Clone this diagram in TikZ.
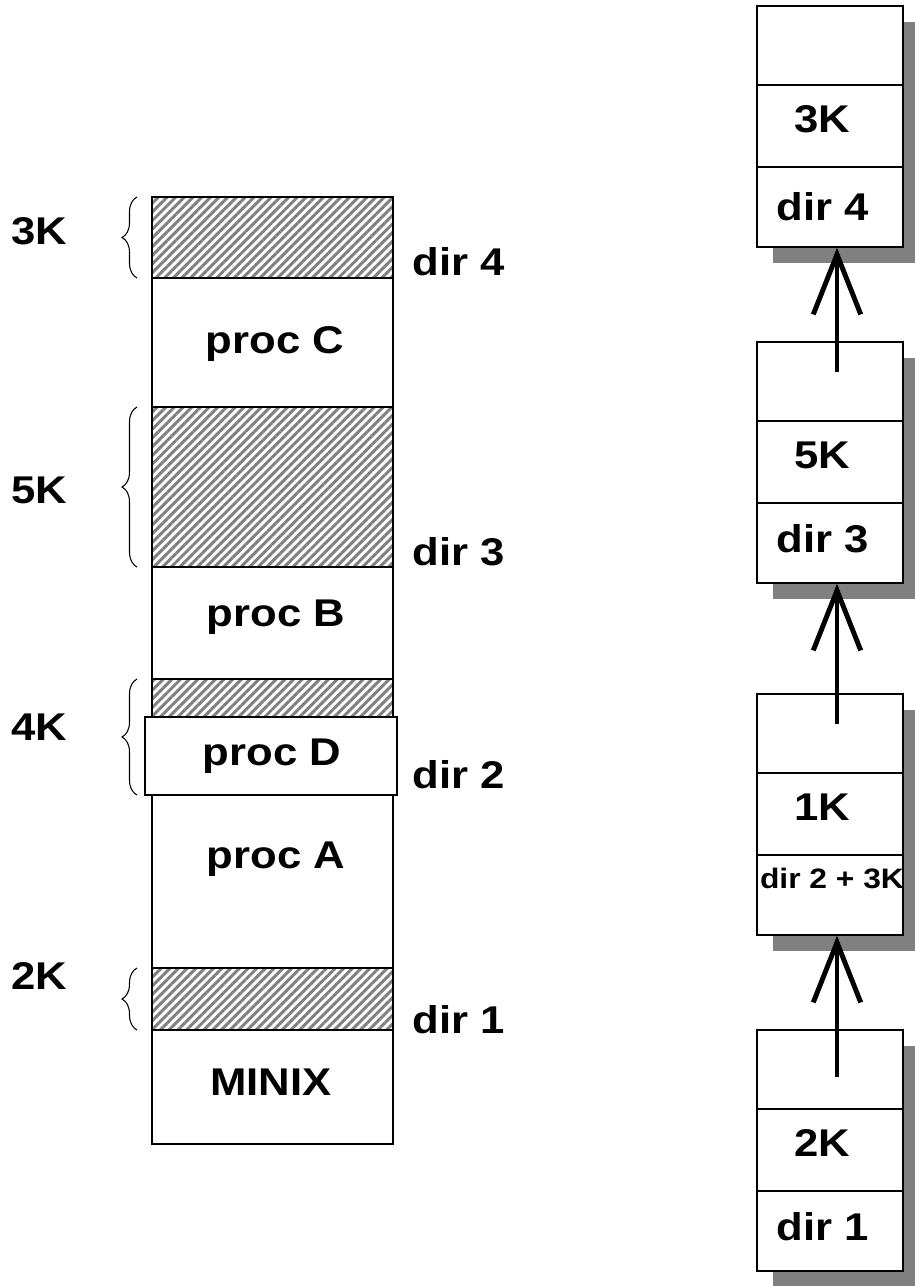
\documentclass[tikz,border=0pt]{standalone}
\usepackage{fontspec}
\setmainfont{Liberation Sans}[FakeStretch=1.13]
\usetikzlibrary{arrows.meta,calc,decorations.pathreplacing,patterns.meta,shadows}

\begin{document}
\begin{tikzpicture}[x=0.02cm, y=-0.02cm,
    lbl/.style={font=\bfseries\fontsize{22}{26}\selectfont, inner sep=0pt},
    hole/.style={draw, line width=0.9pt, pattern={Lines[angle=45,distance=3.5pt,line width=1.7pt]}, pattern color=black!50},
    seg/.style={draw, line width=0.9pt, fill=white},
    gap/.style={decorate, decoration={brace, amplitude=0.3cm}, line width=0.6pt},
    blkbox/.style={draw, line width=0.9pt, fill=white, minimum width=2.92cm, minimum height=4.82cm, inner sep=0pt,
        drop shadow={shadow xshift=0.32cm, shadow yshift=-0.32cm, fill=black!50, opacity=1}},
    ptr/.style={-{Straight Barb[length=1.2cm, width=0.95cm]}, line width=2.8pt}]

    \useasboundingbox (0,0) rectangle (914,1286);

    % Memory column, top to bottom
    \draw[seg] (152,278) rectangle (393,407);
    \draw[seg] (152,567) rectangle (393,679);
    \draw[seg] (152,795) rectangle (393,968);
    \draw[seg] (152,1030) rectangle (393,1144);
    \foreach \a/\b in {197/278, 407/567, 679/717, 968/1030} {
        \draw[hole] (152,\a) rectangle (393,\b);
    }
    % proc D is placed over the lower part of the 4K hole
    \draw[seg] (145,717) rectangle (397,795);

    \node[lbl] (pc) at (275,344) {proc C};
    \node[lbl] (pb) at (276,617) {proc B};
    \node[lbl] (pd) at (272,756) {proc D};
    \node[lbl] (pa) at (276,859) {proc A};
    \node[lbl] (os) at (271,1082) {MINIX};

    % Hole sizes
    \foreach \a/\b/\k/\ky in {197/278/3K/231, 407/567/5K/490, 679/795/4K/727, 968/1030/2K/976} {
        \draw[gap] (137,\b) -- (137,\a);
        \node[lbl] (k\k) at (39,\ky) {\k};
    }

    % Hole addresses
    \foreach \d/\y in {4/262, 3/552, 2/775, 1/1020} {
        \node[lbl, anchor=west] (d\d) at (412,\y) {dir \d};
    }

    % Free list
    \foreach \i/\ty/\s/\a/\ax/\ay in {1/6/3K/dir 4/-7/201, 2/342/5K/dir 3/-7/197, 3/694/1K/{\fontsize{16}{18}\selectfont dir 2 + 3K}/2/185, 4/1030/2K/dir 1/-7/197} {
        \node[blkbox] (blk\i) at (830,\ty+120.5) {};
        \draw[line width=0.9pt] ($(blk\i.north west)+(0,80)$) -- ($(blk\i.north east)+(0,80)$);
        \draw[line width=0.9pt] ($(blk\i.north west)+(0,162)$) -- ($(blk\i.north east)+(0,162)$);
        \node[lbl] (sz\i) at ($(blk\i.north)+(-8,114)$) {\s};
        \node[lbl] (ad\i) at ($(blk\i.north)+(\ax,\ay)$) {\a};
    }

    \foreach \lo/\hi/\off in {2/1/31, 3/2/31, 4/3/48} {
        \draw[ptr] ($(blk\lo.north)+(7,\off)$) -- ($(blk\hi.south)+(7,0)$);
    }
\end{tikzpicture}
\end{document}
